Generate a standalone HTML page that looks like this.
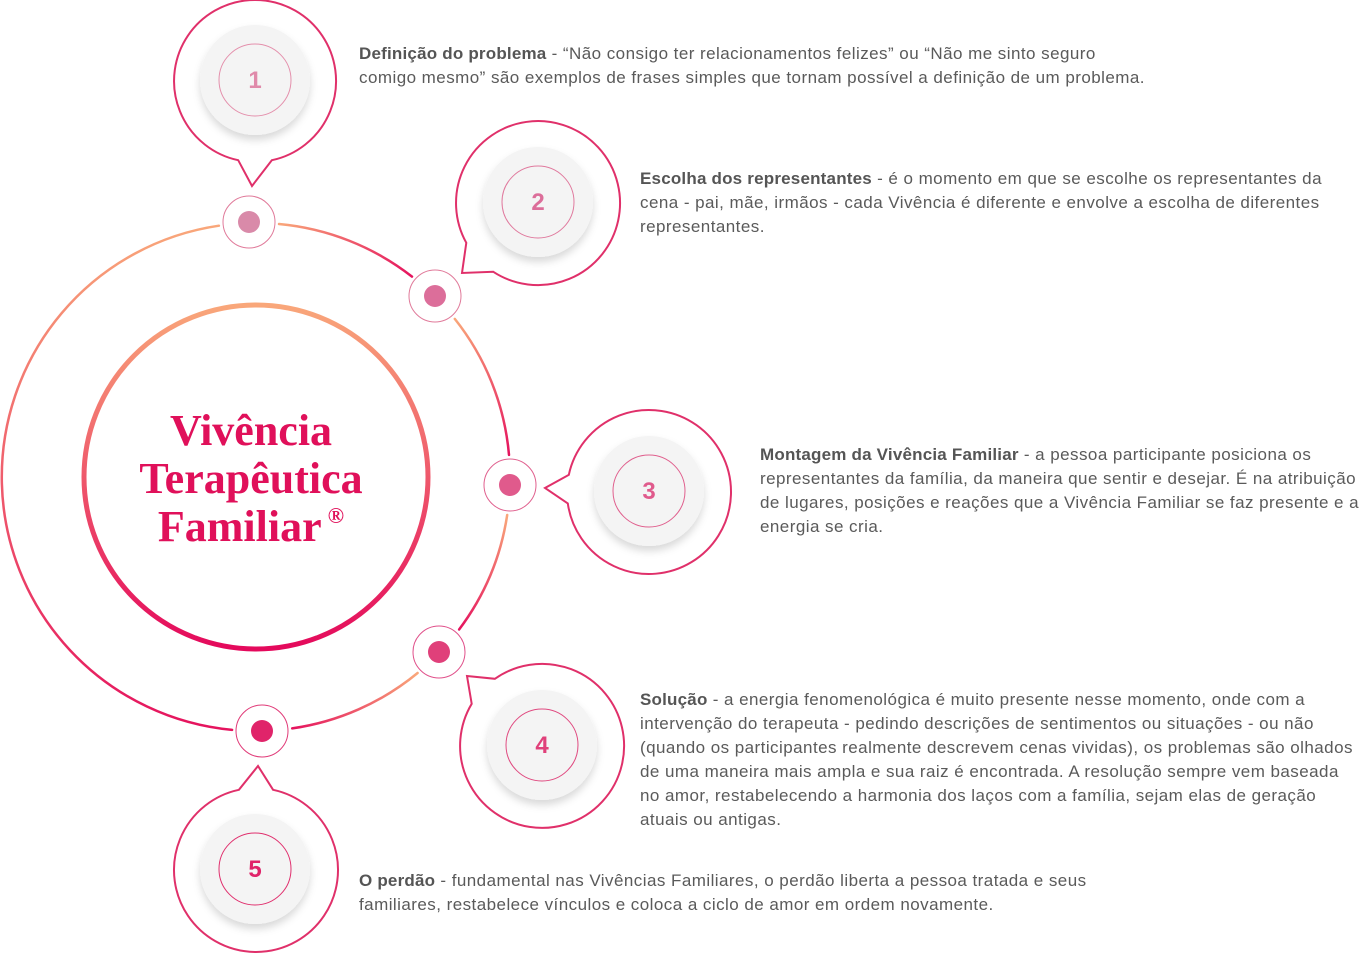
<!DOCTYPE html>
<html><head><meta charset="utf-8"><style>
body{margin:0;width:1366px;height:954px;background:#fff;overflow:hidden;position:relative;font-family:"Liberation Sans",sans-serif}
svg{position:absolute;left:0;top:0}
.t{position:absolute;font-size:17px;letter-spacing:0.45px;line-height:24px;color:#5a5a5a;white-space:nowrap}
.t b{color:#555;letter-spacing:0.2px}
.title{position:absolute;left:91px;width:320px;top:407px;text-align:center;font-family:"Liberation Serif",serif;font-weight:bold;font-size:44px;line-height:48px;color:#e0105a}
.title sup{font-size:22px;line-height:0;vertical-align:18px;margin-left:6px}
</style></head><body>
<svg width="1366" height="954" viewBox="0 0 1366 954">
<defs>
<linearGradient id="g12" gradientUnits="userSpaceOnUse" x1="279" y1="224" x2="412" y2="276.6"><stop offset="0" stop-color="#f9a77a"/><stop offset="1" stop-color="#e5135e"/></linearGradient>
<linearGradient id="g23" gradientUnits="userSpaceOnUse" x1="454.8" y1="318.9" x2="509" y2="454.9"><stop offset="0" stop-color="#f9a77a"/><stop offset="1" stop-color="#e5135e"/></linearGradient>
<linearGradient id="g34" gradientUnits="userSpaceOnUse" x1="507.2" y1="515" x2="459.1" y2="629.5"><stop offset="0" stop-color="#f9a77a"/><stop offset="1" stop-color="#e5135e"/></linearGradient>
<linearGradient id="g45" gradientUnits="userSpaceOnUse" x1="417.6" y1="673" x2="292.2" y2="728.4"><stop offset="0" stop-color="#f9a77a"/><stop offset="1" stop-color="#e5135e"/></linearGradient>
<linearGradient id="gl" gradientUnits="userSpaceOnUse" x1="0" y1="225" x2="0" y2="730"><stop offset="0" stop-color="#f9a77a"/><stop offset="1" stop-color="#e5135e"/></linearGradient>
<linearGradient id="gi" gradientUnits="userSpaceOnUse" x1="0" y1="305" x2="0" y2="649"><stop offset="0" stop-color="#f9a77a"/><stop offset="1" stop-color="#e4095c"/></linearGradient>
<filter id="sh" x="-30%" y="-30%" width="160%" height="170%"><feDropShadow dx="0" dy="5" stdDeviation="4" flood-color="#000" flood-opacity="0.15"/></filter>
</defs>
<g fill="none" stroke-width="2.5" stroke-linecap="round">
<path d="M279,224 A254,254 0 0 1 412,276.6" stroke="url(#g12)"/>
<path d="M454.8,318.9 A254,254 0 0 1 509,454.9" stroke="url(#g23)"/>
<path d="M507.2,515 A254,254 0 0 1 459.1,629.5" stroke="url(#g34)"/>
<path d="M417.6,673 A254,254 0 0 1 292.2,728.4" stroke="url(#g45)"/>
<path d="M218.9,225.7 A254,254 0 0 0 232.1,729.9" stroke="url(#gl)"/>
</g>
<circle cx="256" cy="477" r="172" fill="none" stroke="url(#gi)" stroke-width="5"/>
<g stroke-width="1">
<circle cx="249" cy="222" r="26" fill="#fff" stroke="#e07a9a"/><circle cx="249" cy="222" r="11" fill="#d98aa9"/>
<circle cx="435" cy="296" r="26" fill="#fff" stroke="#e07a9a"/><circle cx="435" cy="296" r="11" fill="#dc6e9a"/>
<circle cx="510" cy="485" r="26" fill="#fff" stroke="#e0608e"/><circle cx="510" cy="485" r="11" fill="#e05a8c"/>
<circle cx="439" cy="652" r="26" fill="#fff" stroke="#e0508a"/><circle cx="439" cy="652" r="11" fill="#e0407a"/>
<circle cx="262" cy="731" r="26" fill="#fff" stroke="#e03a78"/><circle cx="262" cy="731" r="11" fill="#e0246a"/>
</g>
<g fill="#fff" stroke="#e0306a" stroke-width="2" stroke-linejoin="miter">
<path d="M271.9,160.2 A81,81 0 1 0 238.2,160.2 L252,186 Z"/>
<path d="M493.3,271.8 A82,82 0 1 0 466.3,242.8 L462,273 Z"/>
<path d="M567.8,503.4 A82,82 0 1 0 568.8,474.9 L545,488 Z"/>
<path d="M471.7,703.8 A82,82 0 1 0 494.9,678.8 L467,676 Z"/>
<path d="M238.9,789.8 A82,82 0 1 0 273.1,789.8 L258,766 Z"/>
</g>
<g fill="#f4f4f4" filter="url(#sh)">
<circle cx="255" cy="80" r="55"/><circle cx="538" cy="202" r="55"/><circle cx="649" cy="491" r="55"/><circle cx="542" cy="745" r="55"/><circle cx="255" cy="869" r="55"/>
</g>
<g fill="none" stroke-width="1">
<circle cx="255" cy="80" r="36" stroke="#e490ac"/><circle cx="538" cy="202" r="36" stroke="#e07a9e"/><circle cx="649" cy="491" r="36" stroke="#e0608e"/><circle cx="542" cy="745" r="36" stroke="#e04a80"/><circle cx="255" cy="869" r="36" stroke="#e0306e"/>
</g>
<g font-family="Liberation Sans, sans-serif" font-size="24" text-anchor="middle" font-weight="bold">
<text x="255" y="88" fill="#e08aaa">1</text>
<text x="538" y="210" fill="#dc6e9a">2</text>
<text x="649" y="499" fill="#e05a8c">3</text>
<text x="542" y="753" fill="#e0407a">4</text>
<text x="255" y="877" fill="#e0246a">5</text>
</g>
</svg>
<div class="title">Vivência<br>Terapêutica<br>Familiar<sup>®</sup></div>
<div class="t" style="left:359px;top:42px"><b>Definição do problema</b> - “Não consigo ter relacionamentos felizes” ou “Não me sinto seguro<br>comigo mesmo” são exemplos de frases simples que tornam possível a definição de um problema.</div>
<div class="t" style="left:640px;top:167px"><b>Escolha dos representantes</b> - é o momento em que se escolhe os representantes da<br>cena - pai, mãe, irmãos - cada Vivência é diferente e envolve a escolha de diferentes<br>representantes.</div>
<div class="t" style="left:760px;top:443px"><b>Montagem da Vivência Familiar</b> - a pessoa participante posiciona os<br>representantes da família, da maneira que sentir e desejar. É na atribuição<br>de lugares, posições e reações que a Vivência Familiar se faz presente e a<br>energia se cria.</div>
<div class="t" style="left:640px;top:688px"><b>Solução</b> - a energia fenomenológica é muito presente nesse momento, onde com a<br>intervenção do terapeuta - pedindo descrições de sentimentos ou situações - ou não<br>(quando os participantes realmente descrevem cenas vividas), os problemas são olhados<br>de uma maneira mais ampla e sua raiz é encontrada. A resolução sempre vem baseada<br>no amor, restabelecendo a harmonia dos laços com a família, sejam elas de geração<br>atuais ou antigas.</div>
<div class="t" style="left:359px;top:869px"><b>O perdão</b> - fundamental nas Vivências Familiares, o perdão liberta a pessoa tratada e seus<br>familiares, restabelece vínculos e coloca a ciclo de amor em ordem novamente.</div>
</body></html>
